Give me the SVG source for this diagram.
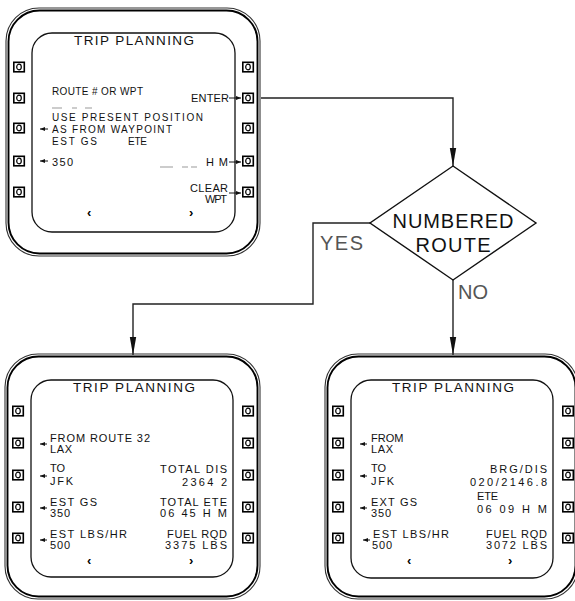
<svg xmlns="http://www.w3.org/2000/svg" xmlns:xlink="http://www.w3.org/1999/xlink" width="575" height="601" viewBox="0 0 575 601">
<style>
.bo{fill:none;stroke:#333;stroke-width:1.1}
.bi{fill:none;stroke:#000;stroke-width:1.9}
.scr{fill:none;stroke:#111;stroke-width:1.3}
.t{font-family:"Liberation Sans",Arial,sans-serif;font-size:11px;fill:#111}
.ts{font-size:10px}
.ti{font-size:13.5px}
.r{text-anchor:end}
.m{text-anchor:middle}
.ch{font-family:"Liberation Sans",Arial,sans-serif;font-weight:bold;font-size:13px;fill:#000}
.sa{stroke:#111;stroke-width:1;marker-end:url(#sm)}
.da{stroke:#999;stroke-width:1}
.cn{fill:none;stroke:#222;stroke-width:1.4;marker-end:url(#ah)}
.big{font-family:"Liberation Sans",Arial,sans-serif;font-size:20px}
.btnr{fill:#fff;stroke:#000;stroke-width:1.6}
.btnc{fill:none;stroke:#000;stroke-width:1.2}
</style>
<defs>
<marker id="ah" markerUnits="userSpaceOnUse" markerWidth="19" markerHeight="8" refX="18" refY="4" orient="auto"><path d="M0,0.8 L18,4 L0,7.2 z" fill="#111"/></marker>
<marker id="sm" markerUnits="userSpaceOnUse" markerWidth="5" markerHeight="5" refX="5" refY="2.5" orient="auto"><path d="M0,0.5 L5,2.5 L0,4.5 z" fill="#111"/></marker>
<g id="btn"><rect class="btnr" x="0.8" y="0.8" width="10.5" height="9.5"/><ellipse class="btnc" cx="6" cy="5.5" rx="2.3" ry="2.8"/></g>
</defs>
<rect width="575" height="601" fill="#fff"/>

<g id="connectors">
<path class="cn" d="M261,98 H453 V166"/>
<path class="cn" d="M371,223 H313 V304 H133 V355"/>
<path class="cn" d="M453,280 V355"/>
<text class="big" x="320" y="250" textLength="43" fill="#555">YES</text>
<text class="big" x="458" y="299" textLength="30" fill="#555">NO</text>
</g>

<g id="decision">
<polygon points="453,166 536,223 453,280 370,223" fill="#fff" stroke="#111" stroke-width="1.4"/>
<text class="big m" x="453" y="228" textLength="121" fill="#111">NUMBERED</text>
<text class="big m" x="453" y="252" textLength="75" fill="#111">ROUTE</text>
</g>

<g id="screen-top">
<rect class="bo" x="6" y="8" width="254" height="248" rx="33"/>
<rect class="bi" x="8.5" y="10.5" width="249" height="243" rx="31"/>
<rect class="scr" x="32" y="33" width="203" height="199" rx="20"/>
<use href="#btn" x="13" y="61.5"/><use href="#btn" x="13" y="92.5"/><use href="#btn" x="13" y="122.5"/><use href="#btn" x="13" y="155.5"/><use href="#btn" x="13" y="186.5"/>
<use href="#btn" x="242" y="61.5"/><use href="#btn" x="242" y="92.5"/><use href="#btn" x="242" y="122.5"/><use href="#btn" x="242" y="155.5"/><use href="#btn" x="242" y="186.5"/>
<text class="t ti" x="74" y="45" textLength="120">TRIP PLANNING</text>
<text class="t ts" x="52" y="95" textLength="91">ROUTE # OR WPT</text>
<text class="t r" x="229" y="102" textLength="38">ENTER</text>
<line class="sa" x1="229" y1="98" x2="241" y2="98"/>
<line class="da" x1="52" y1="108" x2="62" y2="108"/><line class="da" x1="72" y1="108" x2="77" y2="108"/><line class="da" x1="85" y1="108" x2="92" y2="108"/>
<text class="t ts" x="52" y="121" textLength="151">USE PRESENT POSITION</text>
<line class="sa" x1="48" y1="129" x2="40" y2="129"/>
<text class="t ts" x="52" y="133" textLength="120">AS FROM WAYPOINT</text>
<text class="t ts" x="52" y="145" textLength="45">EST GS</text>
<text class="t ts" x="128" y="145" textLength="19">ETE</text>
<line class="sa" x1="48" y1="161" x2="40" y2="161"/>
<text class="t" x="52" y="166" textLength="21">350</text>
<line class="da" x1="160" y1="167" x2="173" y2="167"/><line class="da" x1="182" y1="167" x2="188" y2="167"/><line class="da" x1="191" y1="167" x2="197" y2="167"/>
<text class="t" x="206" y="166" textLength="22">H M</text>
<line class="sa" x1="229" y1="162" x2="241" y2="162"/>
<text class="t r" x="228" y="192" textLength="38">CLEAR</text>
<text class="t r" x="227" y="203" textLength="22">WPT</text>
<line class="sa" x1="229" y1="193" x2="241" y2="193"/>
<text class="ch" x="87" y="217">‹</text>
<text class="ch" x="189" y="217">›</text>
</g>

<g id="screen-route">
<rect class="bo" x="5" y="354" width="255" height="245" rx="33"/>
<rect class="bi" x="7.5" y="356.5" width="250" height="240" rx="31"/>
<rect class="scr" x="31" y="380" width="202" height="197" rx="20"/>
<use href="#btn" x="12" y="405.5"/><use href="#btn" x="12" y="437.5"/><use href="#btn" x="12" y="469.5"/><use href="#btn" x="12" y="501.5"/><use href="#btn" x="12" y="532.5"/>
<use href="#btn" x="242" y="405.5"/><use href="#btn" x="242" y="437.5"/><use href="#btn" x="242" y="469.5"/><use href="#btn" x="242" y="501.5"/><use href="#btn" x="242" y="532.5"/>
<text class="t ti" x="73" y="392" textLength="122">TRIP PLANNING</text>
<line class="sa" x1="47" y1="444" x2="40" y2="444"/>
<text class="t" x="50" y="442" textLength="100">FROM ROUTE 32</text>
<text class="t" x="50" y="453" textLength="22">LAX</text>
<line class="sa" x1="47" y1="476" x2="40" y2="476"/>
<text class="t" x="50" y="472">TO</text>
<text class="t" x="50" y="485" textLength="23">JFK</text>
<text class="t r" x="227" y="473" textLength="67">TOTAL DIS</text>
<text class="t r" x="227" y="486" textLength="45">2364 2</text>
<line class="sa" x1="47" y1="508" x2="40" y2="508"/>
<text class="t" x="50" y="506" textLength="47">EST GS</text>
<text class="t" x="50" y="517" textLength="20">350</text>
<text class="t r" x="227" y="506" textLength="67">TOTAL ETE</text>
<text class="t r" x="227" y="517" textLength="67">06 45 H M</text>
<line class="sa" x1="47" y1="540" x2="40" y2="540"/>
<text class="t" x="50" y="538" textLength="77">EST LBS/HR</text>
<text class="t" x="50" y="549" textLength="20">500</text>
<text class="t r" x="227" y="538" textLength="60">FUEL RQD</text>
<text class="t r" x="227" y="549" textLength="62">3375 LBS</text>
<text class="ch" x="87" y="565">‹</text>
<text class="ch" x="189" y="565">›</text>
</g>

<g id="screen-direct">
<rect class="bo" x="325" y="354" width="253" height="245" rx="33"/>
<rect class="bi" x="327.5" y="356.5" width="248" height="240" rx="31"/>
<rect class="scr" x="351" y="380" width="202" height="198" rx="20"/>
<use href="#btn" x="332" y="405.5"/><use href="#btn" x="332" y="437.5"/><use href="#btn" x="332" y="469.5"/><use href="#btn" x="332" y="501.5"/><use href="#btn" x="332" y="532.5"/>
<use href="#btn" x="562" y="405.5"/><use href="#btn" x="562" y="437.5"/><use href="#btn" x="562" y="469.5"/><use href="#btn" x="562" y="501.5"/><use href="#btn" x="562" y="532.5"/>
<text class="t ti" x="392" y="392" textLength="122">TRIP PLANNING</text>
<line class="sa" x1="367" y1="444" x2="360" y2="444"/>
<text class="t" x="371" y="442">FROM</text>
<text class="t" x="371" y="453" textLength="22">LAX</text>
<line class="sa" x1="367" y1="476" x2="360" y2="476"/>
<text class="t" x="371" y="472">TO</text>
<text class="t" x="371" y="485" textLength="23">JFK</text>
<text class="t r" x="547" y="473" textLength="57">BRG/DIS</text>
<text class="t r" x="547" y="486" textLength="77">020/2146.8</text>
<text class="t" x="477" y="500" textLength="21">ETE</text>
<text class="t r" x="547" y="513" textLength="70">06 09 H M</text>
<line class="sa" x1="367" y1="508" x2="360" y2="508"/>
<text class="t" x="371" y="506" textLength="46">EXT GS</text>
<text class="t" x="371" y="517" textLength="20">350</text>
<line class="sa" x1="370" y1="540" x2="363" y2="540"/>
<text class="t" x="373" y="538" textLength="76">EST LBS/HR</text>
<text class="t" x="372" y="549" textLength="20">500</text>
<text class="t r" x="547" y="538" textLength="61">FUEL RQD</text>
<text class="t r" x="547" y="549" textLength="61">3072 LBS</text>
<text class="ch" x="407" y="565">‹</text>
<text class="ch" x="508" y="565">›</text>
</g>
</svg>
